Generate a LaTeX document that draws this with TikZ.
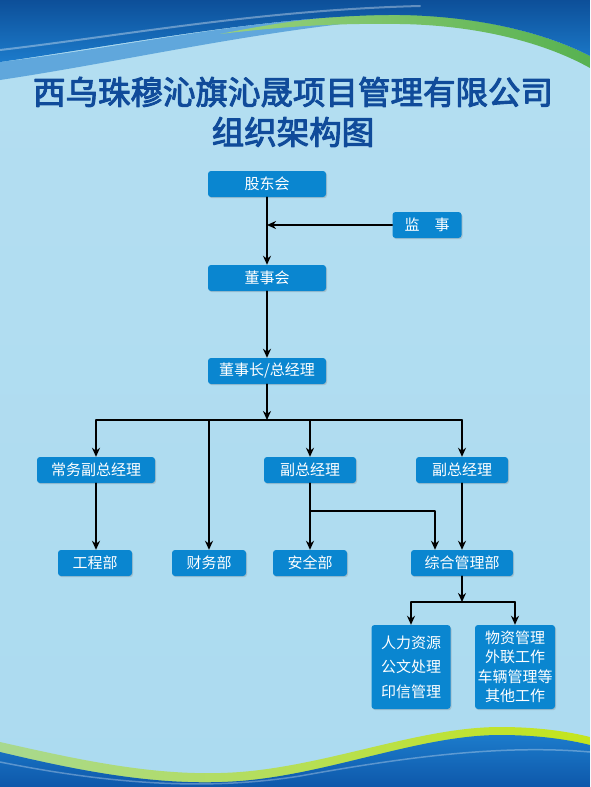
\documentclass[tikz,border=0pt]{standalone}
\usepackage{fontspec}
\newfontfamily\cjk{Noto Sans CJK SC}
\newfontfamily\cjktitle{Noto Sans CJK SC}[FakeBold=3]
\usetikzlibrary{arrows.meta,shadows}

\definecolor{boxblue}{HTML}{0A86D0}
\definecolor{titleblue}{HTML}{104B9A}
\definecolor{bgtop}{HTML}{B4DEF1}
\definecolor{bgmid}{HTML}{D2ECF8}
\definecolor{bgbot}{HTML}{ACDBF0}
\definecolor{wavedark}{HTML}{0E58AA}
\definecolor{wavemid}{HTML}{1C7BCB}
\definecolor{wavegreen}{HTML}{6DBE45}

\tikzset{
  box/.style={rounded corners=3pt, fill=boxblue, text=white, inner sep=0pt,
    font=\cjk\fontsize{15}{17}\selectfont, minimum height=26pt,
    drop shadow={shadow xshift=1pt, shadow yshift=-1.2pt, opacity=0.3}},
  arr/.style={-{Stealth[length=9pt,width=8pt]}, line width=1.5pt},
  bus/.style={line width=1.5pt},
}

\begin{document}
\begin{tikzpicture}[x=1pt, y=-1pt, line cap=round, line join=round]

  %% ==== background ====
  \shade[top color=bgtop, middle color=bgmid, bottom color=bgbot] (0,0) rectangle (590,787);

  %% top wave
  \fill[wavemid, opacity=0.55] (0,80) .. controls (120,62) and (250,32) .. (380,20)
    -- (380,15) .. controls (250,18) and (120,48) .. (0,62) -- cycle;
  \shade[left color=wavegreen!70!white, right color=wavegreen!80!teal]
    (220,34) .. controls (300,18) and (350,14) .. (400,14) .. controls (470,16) and (540,30) .. (590,56)
    -- (590,68) .. controls (540,40) and (470,25) .. (400,24) .. controls (330,23) and (280,27) .. cycle;
  \shade[top color=wavedark!90!black, bottom color=wavemid]
    (0,0) -- (590,0) -- (590,56) .. controls (540,30) and (470,16) .. (400,15)
    .. controls (280,14) and (120,45) .. (0,62) -- cycle;
  \draw[white, opacity=0.35, line width=2pt] (0,50) .. controls (120,36) and (260,10) .. (420,6);

  %% bottom wave
  \shade[left color=wavegreen!60!white, right color=wavegreen!40!yellow]
    (0,742) .. controls (80,760) and (160,778) .. (240,772) .. controls (330,765) and (420,727) .. (500,727)
    .. controls (540,727) and (570,732) .. (590,737) -- (590,787) -- (0,787) -- cycle;
  \shade[top color=wavemid, bottom color=wavedark]
    (0,752) .. controls (80,771) and (160,787) .. (240,781) .. controls (330,774) and (420,735) .. (500,735)
    .. controls (540,735) and (570,740) .. (590,745) -- (590,787) -- (0,787) -- cycle;
  \draw[white, opacity=0.3, line width=1.5pt] (0,762) .. controls (100,782) and (200,792) .. (300,776)
    .. controls (400,758) and (500,744) .. (590,752);

  %% ==== title ====
  \node[text=titleblue, font=\cjktitle\fontsize{32.5}{36}\selectfont] (title1) at (293,92) {西乌珠穆沁旗沁晟项目管理有限公司};
  \node[text=titleblue, font=\cjktitle\fontsize{32.5}{36}\selectfont] (title2) at (293,132) {组织架构图};

  %% ==== boxes ====
  \node[box, minimum width=118pt] (gdh)  at (267,184) {股东会};
  \node[box, minimum width=69pt]  (js)   at (427,225) {监\hspace{1em}事};
  \node[box, minimum width=118pt] (dsh)  at (267,278) {董事会};
  \node[box, minimum width=118pt] (dsz)  at (267,371) {董事长/总经理};
  \node[box, minimum width=118pt] (cwfz) at (96,470)  {常务副总经理};
  \node[box, minimum width=92pt]  (fzA)  at (310,470) {副总经理};
  \node[box, minimum width=92pt]  (fzB)  at (462,470) {副总经理};
  \node[box, minimum width=74pt]  (gcb)  at (95,563)  {工程部};
  \node[box, minimum width=74pt]  (cwb)  at (209,563) {财务部};
  \node[box, minimum width=74pt]  (aqb)  at (310,563) {安全部};
  \node[box, minimum width=102pt] (zhgl) at (462,563) {综合管理部};
  \node[box, minimum width=79pt, minimum height=84pt, align=center,
        font=\cjk\fontsize{15}{24.5}\selectfont] (rlzy) at (411,667) {人力资源\\公文处理\\印信管理};
  \node[box, minimum width=80pt, minimum height=84pt, align=center,
        font=\cjk\fontsize{15}{19.5}\selectfont] (wzgl) at (515,667) {物资管理\\外联工作\\车辆管理等\\其他工作};

  %% ==== connectors ====
  \coordinate (busA) at (267,420);
  \coordinate (busB) at (310,511);
  \coordinate (busC) at (462,602);

  \draw[arr] (gdh.south) -- (dsh.north);
  \draw[arr] (js.west) -- (js.west -| gdh.south);
  \draw[arr] (dsh.south) -- (dsz.north);
  \draw[arr] (dsz.south) -- (busA);
  \draw[bus] (cwfz.north |- busA) -- (fzB.north |- busA);
  \draw[arr] (cwfz.north |- busA) -- (cwfz.north);
  \draw[arr] (cwb.north |- busA) -- (cwb.north);
  \draw[arr] (fzA.north |- busA) -- (fzA.north);
  \draw[arr] (fzB.north |- busA) -- (fzB.north);

  \draw[arr] (cwfz.south) -- (cwfz.south |- gcb.north);
  \draw[arr] (fzA.south) -- (aqb.north);
  \draw[arr] (busB) -| ([xshift=-27pt]zhgl.north);
  \draw[arr] (fzB.south) -- (zhgl.north);

  \draw[arr] (zhgl.south) -- (busC);
  \draw[bus] (rlzy.north |- busC) -- (wzgl.north |- busC);
  \draw[arr] (rlzy.north |- busC) -- (rlzy.north);
  \draw[arr] (wzgl.north |- busC) -- (wzgl.north);

  \pgfresetboundingbox
  \path[use as bounding box] (0,0) rectangle (590,787);
\end{tikzpicture}
\end{document}
